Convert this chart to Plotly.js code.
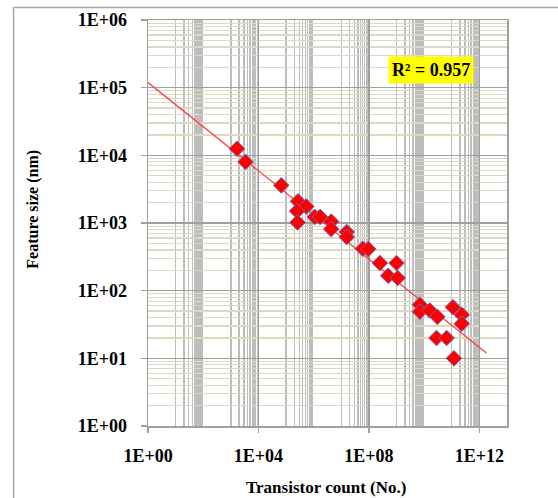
<!DOCTYPE html>
<html>
<head>
<meta charset="utf-8">
<script src="https://cdn.plot.ly/plotly-3.0.1.min.js"></script>
<style>
html,body{margin:0;padding:0;background:#fff;}
#chart{width:558px;height:498px;}
</style>
</head>
<body>
<div id="chart"></div>
<script>
// Transistor count (No.) vs feature size (nm)
const transistorCount = [1.67e3, 3.4e3, 6.7e4, 2.7e5, 5.4e5, 2.5e5, 2.6e5, 1.1e6, 1.7e6, 4.3e6, 4.3e6, 1.58e7, 1.58e7, 6.0e7, 9.5e7, 2.5e8, 1.0e9, 5.0e8, 1.1e9, 7.0e9, 7.0e9, 1.6e10, 3.0e10, 1.1e11, 2.3e11, 2.3e11, 2.8e10, 6.5e10, 1.2e11];
const featureSize   = [1.25e4, 8.0e3, 3.6e3, 2.09e3, 1.75e3, 1.5e3, 1.02e3, 1.23e3, 1.23e3, 1.05e3, 813, 737, 620, 417, 412, 256, 256, 166, 154, 62, 49, 51, 41, 57, 44, 32.5, 20, 20, 10];

// Power trendline: y = trendA * x^trendB, drawn from x = 1 to trendXEnd
const trendA = 1.19e5;
const trendB = -0.326;
const trendXStart = 1;
const trendXEnd = 1.8e12;
const rSquaredText = "R² = 0.957";

// Axis tick labels
const xTickVals = [1, 1e4, 1e8, 1e12];
const xTickText = ["1E+00", "1E+04", "1E+08", "1E+12"];
const yTickVals = [1, 10, 100, 1e3, 1e4, 1e5, 1e6];
const yTickText = ["1E+00", "1E+01", "1E+02", "1E+03", "1E+04", "1E+05", "1E+06"];

// minor gridline positions (Excel style)
const xMinor = [];
for (let k = 1; k <= 11; k += 2) for (let m = 1; m <= 9; m++) xMinor.push(m * Math.pow(10, k));
const yMinor = [];
for (let n = 0; n < 6; n++) for (let m = 2; m <= 9; m++) yMinor.push(m * Math.pow(10, n));

const trendX = [trendXStart, trendXEnd];
const trendY = trendX.map(v => trendA * Math.pow(v, trendB));

const serif = "'Liberation Serif', 'Times New Roman', serif";

const traces = [
  {
    x: trendX, y: trendY, type: "scatter", mode: "lines",
    line: {color: "#ff4040", width: 1.3},
    hoverinfo: "skip", showlegend: false
  },
  {
    x: transistorCount, y: featureSize, type: "scatter", mode: "markers",
    marker: {symbol: "diamond", size: 12, color: "#ff0000", line: {color: "#6a6ab0", width: 1}},
    showlegend: false
  }
];

const layout = {
  width: 558, height: 498,
  margin: {l: 147.5, r: 51.3, t: 19.5, b: 71.5},
  paper_bgcolor: "#ffffff", plot_bgcolor: "#ffffff",
  showlegend: false,
  xaxis: {
    type: "log", range: [0, 13], autorange: false,
    tickmode: "array", tickvals: xTickVals, ticktext: xTickText,
    showgrid: true, gridcolor: "#a0a0a0", gridwidth: 1.5,
    showline: true, linecolor: "#a0a0a0", linewidth: 1.5, mirror: true,
    ticks: "outside", ticklen: 5, tickcolor: "#a0a0a0", tickwidth: 1.5,
    ticklabelstandoff: 8,
    tickfont: {family: serif, size: 18, color: "#000", weight: "bold"},
    zeroline: false,
    minor: {tickmode: "array", tickvals: xMinor, showgrid: true, gridcolor: "#bdbdbd", gridwidth: 1.4, ticks: ""}
  },
  yaxis: {
    type: "log", range: [0, 6], autorange: false,
    tickmode: "array", tickvals: yTickVals, ticktext: yTickText,
    showgrid: true, gridcolor: "#a0a0a0", gridwidth: 1.5,
    showline: true, linecolor: "#a0a0a0", linewidth: 1.5, mirror: true,
    ticks: "outside", ticklen: 6, tickcolor: "#a0a0a0", tickwidth: 1.5,
    ticklabelstandoff: 10,
    tickfont: {family: serif, size: 18, color: "#000", weight: "bold"},
    zeroline: false,
    minor: {tickmode: "array", tickvals: yMinor, showgrid: true, gridcolor: "#ddd8c2", gridwidth: 1.2, ticks: ""}
  },
  shapes: [
    {type: "rect", xref: "paper", yref: "paper", x0: -0.3744, x1: 1.5, y0: -0.5, y1: 1.0307,
     line: {color: "#a6a6a6", width: 1.5}, fillcolor: "rgba(0,0,0,0)", layer: "below"}
  ],
  annotations: [
    {text: "Transistor count (No.)", xref: "paper", yref: "paper", x: 0.495, y: -0.151,
     xanchor: "center", yanchor: "middle", showarrow: false,
     font: {family: serif, size: 17, color: "#000", weight: "bold"}},
    {text: "Feature size (nm)", xref: "paper", yref: "paper", x: -0.319, y: 0.534,
     xanchor: "center", yanchor: "middle", showarrow: false, textangle: -90,
     font: {family: serif, size: 16, color: "#000", weight: "bold"}},
    {text: rSquaredText, xref: "paper", yref: "paper", x: 0.789, y: 0.876,
     xanchor: "center", yanchor: "middle", showarrow: false,
     bgcolor: "#ffff00", borderpad: 3,
     font: {family: serif, size: 18, color: "#000", weight: "bold"}}
  ]
};

Plotly.newPlot("chart", traces, layout, {staticPlot: true, displayModeBar: false});
</script>
</body>
</html>
